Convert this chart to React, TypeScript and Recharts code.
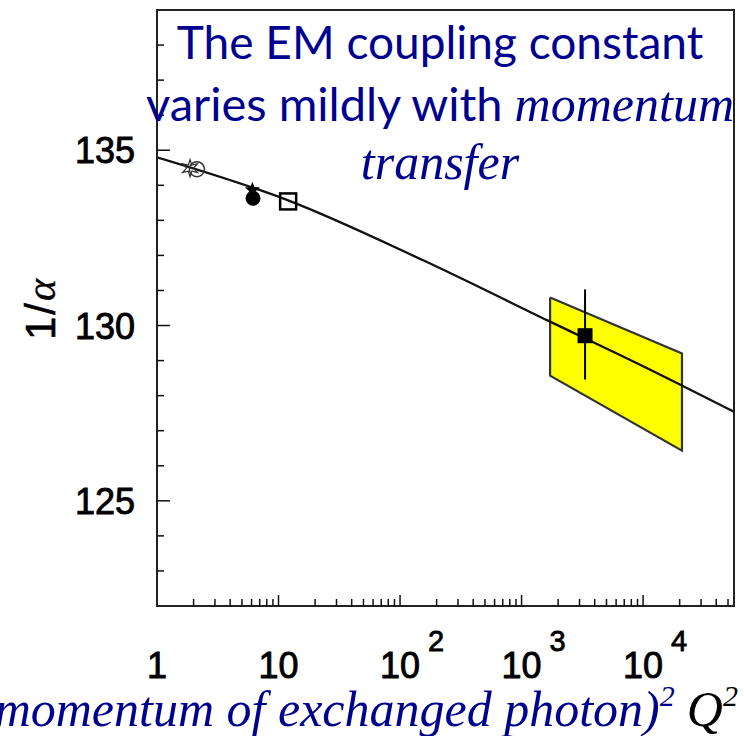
import React from "react";
import { ComposedChart, XAxis, YAxis, Line, Area, Scatter, ErrorBar, ReferenceArea } from "recharts";

// running 1/alpha curve, sampled along Q^2 (GeV^2)
const curveQ2 = [1, 12, 155, 1650, 10000, 56000];
const curveInvAlpha = [134.8, 133.57, 131.86, 130.14, 128.84, 127.54];

// low energy measurements
const openStarPts = [{ q: 1.87, v: 134.49 }];
const openCirclePts = [{ q: 2.13, v: 134.46 }];
const filledStarPts = [{ q: 6.1, v: 133.87 }];
const filledCirclePts = [{ q: 6.17, v: 133.63 }];
const openSquarePts = [{ q: 12.0, v: 133.54 }];

// high Q^2 measurement with its error bar
const bigQ2 = 3330;
const bigVal = 129.71;
const bigErrLow = 128.46;
const bigErrHigh = 131.03;

// yellow allowed region
const bandQ2 = [1717, 20900];
const bandLow = [128.57, 126.43];
const bandHigh = [130.8, 129.2];

// axes
const xMin = 1;
const xMax = 56000;
const yMin = 122;
const yMax = 139;
const decades = [1, 10, 100, 1000, 10000];
const decadeBase = ["1", "10", "10", "10", "10"];
const decadeExp = ["", "", "2", "3", "4"];
const mantissas = [1, 2, 3, 4, 5, 6, 7, 8, 9];
const yTicks = [123, 124, 125, 126, 127, 128, 129, 130, 131, 132, 133, 134, 135, 136, 137, 138];
const yLabelled = [125, 130, 135];

const curveData = curveQ2.map((q, i) => ({ q, v: curveInvAlpha[i] }));
const bandData = bandQ2.map((q, i) => ({ q, band: [bandLow[i], bandHigh[i]] }));
const bandOutline = [
  { q: bandQ2[0], v: bandHigh[0] },
  { q: bandQ2[1], v: bandHigh[1] },
  { q: bandQ2[1], v: bandLow[1] },
  { q: bandQ2[0], v: bandLow[0] },
  { q: bandQ2[0], v: bandHigh[0] },
];
const bigData = [{ q: bigQ2, v: bigVal, err: [bigVal - bigErrLow, bigErrHigh - bigVal] }];
const xTicks = decades.flatMap((d) => mantissas.map((m) => d * m)).filter((t) => t <= xMax);

const BLUE = "#00008f";
const SANS = "Liberation Sans, Arial";

function XTick(props: any) {
  const { x, y, payload } = props;
  const v = payload.value;
  const i = decades.indexOf(v);
  const major = i >= 0;
  return (
    <g>
      {v > 1 && (
        <line x1={x} x2={x} y1={y} y2={y - (major ? 11 : 7)} stroke="#111" strokeWidth={1.5} />
      )}
      {major && (
        <text x={x} y={y + 72} textAnchor="middle" fontSize={36} fontFamily={SANS} fill="#000" stroke="#000" strokeWidth={0.9}>
          {decadeBase[i]}
        </text>
      )}
      {major && decadeExp[i] && (
        <text x={x + 28} y={y + 45} fontSize={29} fontFamily={SANS} fill="#000" stroke="#000" strokeWidth={0.8}>
          {decadeExp[i]}
        </text>
      )}
    </g>
  );
}

function YTick(props: any) {
  const { x, y, payload } = props;
  const v = payload.value;
  const major = yLabelled.includes(v);
  return (
    <g>
      <line x1={x} x2={x + (major ? 13 : 7)} y1={y} y2={y} stroke="#111" strokeWidth={1.5} />
      {major && (
        <text x={x - 22} y={y + 13} textAnchor="end" fontSize={36} fontFamily={SANS} fill="#000" stroke="#000" strokeWidth={0.9}>
          {v}
        </text>
      )}
    </g>
  );
}

function OpenStar({ cx, cy }: any) {
  const pts: string[] = [];
  for (let k = 0; k < 12; k++) {
    const r = k % 2 === 0 ? 8.5 : 3.5;
    const a = (Math.PI / 6) * k - Math.PI / 2;
    pts.push(`${cx + r * Math.cos(a)},${cy + r * Math.sin(a)}`);
  }
  return <polygon points={pts.join(" ")} fill="none" stroke="#333" strokeWidth={1.3} />;
}

function FilledStar({ cx, cy }: any) {
  const pts: string[] = [];
  for (let k = 0; k < 10; k++) {
    const r = k % 2 === 0 ? 8 : 3.5;
    const a = (Math.PI / 5) * k - Math.PI / 2;
    pts.push(`${cx + r * Math.cos(a)},${cy + r * Math.sin(a)}`);
  }
  return <polygon points={pts.join(" ")} fill="#000" />;
}

const OpenCircle = ({ cx, cy }: any) => <circle cx={cx} cy={cy} r={7.5} fill="none" stroke="#333" strokeWidth={1.5} />;
const FilledCircle = ({ cx, cy }: any) => <circle cx={cx} cy={cy} r={7.5} fill="#000" />;
const OpenSquare = ({ cx, cy }: any) => (
  <rect x={cx - 8} y={cy - 8} width={16} height={16} fill="none" stroke="#000" strokeWidth={2.5} />
);
const FilledSquare = ({ cx, cy }: any) => <rect x={cx - 7.5} y={cy - 7.5} width={15} height={15} fill="#000" />;

export default function App() {
  return (
    <div style={{ position: "relative", width: 744, height: 736, background: "#fff", overflow: "hidden" }}>
      <style>{"body{margin:0}"}</style>
      <ComposedChart width={744} height={736} margin={{ top: 10, right: 10, bottom: 0, left: 0 }}>
        <XAxis
          dataKey="q"
          type="number"
          scale="log"
          domain={[xMin, xMax]}
          allowDataOverflow
          ticks={xTicks}
          interval={0}
          tick={<XTick />}
          tickSize={0}
          tickMargin={0}
          height={130}
          axisLine={{ stroke: "#222", strokeWidth: 2 }}
        />
        <YAxis
          type="number"
          domain={[yMin, yMax]}
          allowDataOverflow
          ticks={yTicks}
          interval={0}
          tick={<YTick />}
          tickSize={0}
          tickMargin={0}
          width={157}
          axisLine={{ stroke: "#222", strokeWidth: 2 }}
        />
        <ReferenceArea x1={xMin} x2={xMax} y1={yMin} y2={yMax} fill="none" stroke="#222" strokeWidth={2} fillOpacity={0} />
        <Area data={bandData} dataKey="band" type="linear" fill="#ffff00" fillOpacity={1} stroke="none" isAnimationActive={false} />
        <Line data={bandOutline} dataKey="v" type="linear" stroke="#333" strokeWidth={2.2} dot={false} isAnimationActive={false} />
        <Line data={curveData} dataKey="v" type="monotone" stroke="#111" strokeWidth={2.3} dot={false} isAnimationActive={false} />
        <Scatter data={openStarPts} dataKey="v" shape={<OpenStar />} isAnimationActive={false} />
        <Scatter data={openCirclePts} dataKey="v" shape={<OpenCircle />} isAnimationActive={false} />
        <Scatter data={filledStarPts} dataKey="v" shape={<FilledStar />} isAnimationActive={false} />
        <Scatter data={filledCirclePts} dataKey="v" shape={<FilledCircle />} isAnimationActive={false} />
        <Scatter data={openSquarePts} dataKey="v" shape={<OpenSquare />} isAnimationActive={false} />
        <Scatter data={bigData} dataKey="v" shape={<FilledSquare />} isAnimationActive={false}>
          <ErrorBar dataKey="err" direction="y" width={0} stroke="#000" strokeWidth={2} />
        </Scatter>
      </ComposedChart>

      {/* rotated y-axis title */}
      <div
        style={{
          position: "absolute",
          left: 20,
          top: 340,
          transform: "rotate(-90deg)",
          transformOrigin: "left top",
          fontFamily: SANS,
          fontSize: 42,
          letterSpacing: 2,
          color: "#000",
          whiteSpace: "nowrap",
          lineHeight: "42px",
          WebkitTextStroke: "0.6px #000",
        }}
      >
        1/<span style={{ fontFamily: "Liberation Serif", fontStyle: "italic", WebkitTextStroke: "0.3px #000" }}>α</span>
      </div>

      <div style={{ position: "absolute", left: 140, width: 600, top: 0, textAlign: "center", color: BLUE, whiteSpace: "nowrap" }}>
        <div style={{ position: "absolute", left: 0, right: 0, top: 14, fontFamily: "Lato", fontSize: 46, lineHeight: "56px" }}>
          The EM coupling constant
        </div>
        <div style={{ position: "absolute", left: -20, right: -20, top: 74, fontFamily: "Lato", fontSize: 47, lineHeight: "58px" }}>
          varies mildly with{" "}
          <span style={{ fontFamily: "Liberation Serif", fontStyle: "italic", fontSize: 50 }}>momentum</span>
        </div>
        <div style={{ position: "absolute", left: 0, right: 0, top: 134, fontFamily: "Liberation Serif", fontStyle: "italic", fontSize: 50, lineHeight: "56px" }}>
          transfer
        </div>
      </div>

      {/* x-axis title */}
      <div
        style={{
          position: "absolute",
          left: -22,
          top: 689,
          whiteSpace: "nowrap",
          fontFamily: "Liberation Serif",
          fontStyle: "italic",
          fontSize: 50,
          lineHeight: "40px",
        }}
      >
        <span style={{ color: BLUE }}>
          (momentum of exchanged photon)
          <span style={{ fontSize: 30, position: "relative", top: -20 }}>2</span>
        </span>
        <span style={{ color: "#000", marginLeft: 12 }}>
          Q<span style={{ fontSize: 30, position: "relative", top: -20 }}>2</span>
        </span>
      </div>
    </div>
  );
}
